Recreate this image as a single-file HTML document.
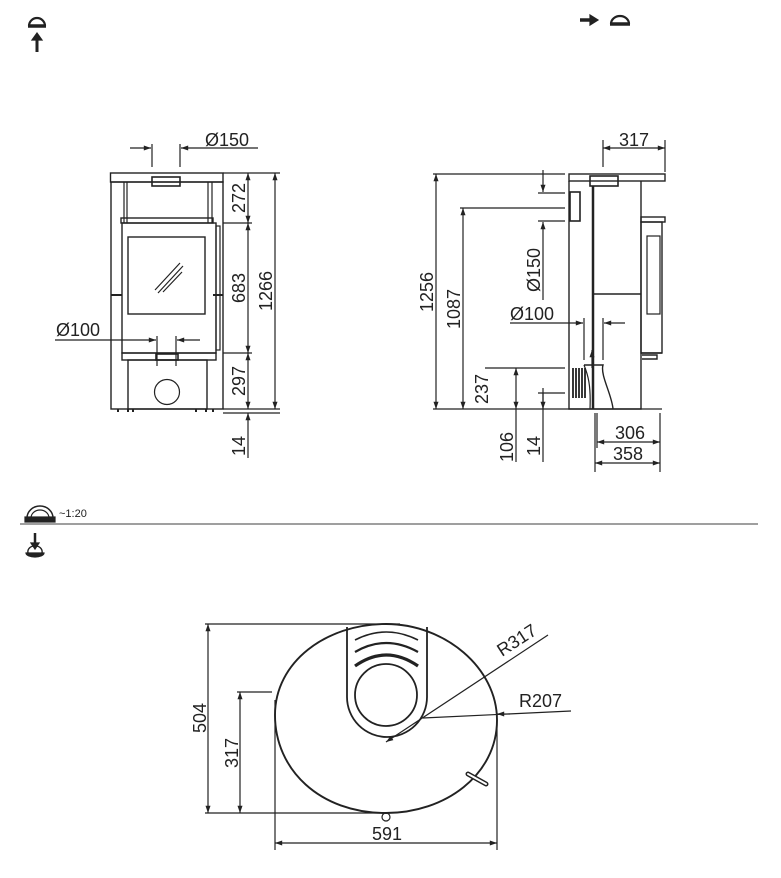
<!DOCTYPE html>
<html><head><meta charset="utf-8"><style>
html,body{margin:0;padding:0;background:#fff;}
svg{display:block;}
text{font-family:"Liberation Sans",Arial,sans-serif;fill:#222;}
</style></head><body>
<svg width="781" height="878" viewBox="0 0 781 878" xmlns="http://www.w3.org/2000/svg">
<defs>
<marker id="a" viewBox="0 0 10 10" refX="10" refY="5" markerWidth="9" markerHeight="6" orient="auto-start-reverse"><path d="M0,1.5 L10,5 L0,8.5 z" fill="#222"/></marker>
</defs>
<g stroke="#222" fill="none" stroke-width="1.2">

<!-- top icons -->
<path d="M29,26 a8,8 0 0 1 16,0" stroke-width="2.2"/>
<path d="M28,26 h18" stroke-width="3.5"/>
<path d="M37,52 V38" stroke-width="3"/>
<path d="M32,40 L37,33 L42,40 z" fill="#222"/>
<path d="M580,20 H592" stroke-width="3.5"/>
<path d="M590,15 L598,20 L590,25 z" fill="#222"/>
<path d="M611,24 a9,8 0 0 1 18,0" stroke-width="2.2"/>
<path d="M610,24 h20" stroke-width="3.5"/>

<!-- FRONT VIEW -->
<rect x="110.5" y="173" width="112.5" height="9" stroke-width="1.4"/>
<rect x="111" y="182" width="112" height="227" stroke-width="1.4"/>
<line x1="124" y1="182" x2="124" y2="223"/><line x1="127" y1="182" x2="127" y2="223"/>
<line x1="208" y1="182" x2="208" y2="223"/><line x1="212" y1="182" x2="212" y2="223"/>
<rect x="121" y="218" width="92" height="5" stroke-width="1.4"/>
<rect x="122" y="223" width="94" height="130" stroke-width="1.4"/>
<rect x="216" y="226" width="4" height="124"/>
<rect x="128" y="237" width="77" height="77" stroke-width="1.4"/>
<path d="M155,290 L180,263 M158,293 L183,266 M163,292 L182,272"/>
<rect x="152" y="177" width="28" height="9" stroke-width="1.6"/>
<line x1="111" y1="295" x2="122" y2="295" stroke-width="2"/>
<line x1="213" y1="295" x2="223" y2="295" stroke-width="2"/>
<rect x="122" y="353" width="94" height="7" stroke-width="1.4"/>
<rect x="128" y="360" width="79" height="49" stroke-width="1.4"/>
<circle cx="167" cy="392" r="12.5"/>
<rect x="156" y="354" width="22" height="6" stroke-width="1.6"/>
<path d="M118,409 v3 M128,409 v3 M133,409 v3 M196,409 v3 M206,409 v3 M213,409 v3" stroke-width="2"/>
<!-- front dims -->
<line x1="130" y1="148" x2="151" y2="148" marker-end="url(#a)"/>
<line x1="181" y1="148" x2="258" y2="148" marker-start="url(#a)"/>
<line x1="152" y1="144" x2="152" y2="167"/><line x1="180" y1="144" x2="180" y2="167"/>
<line x1="223" y1="173" x2="280" y2="173"/>
<line x1="223" y1="223" x2="252" y2="223"/>
<line x1="223" y1="353" x2="252" y2="353"/>
<line x1="223" y1="409" x2="280" y2="409"/>
<line x1="223" y1="413" x2="280" y2="413"/>
<line x1="248" y1="173" x2="248" y2="223" marker-start="url(#a)" marker-end="url(#a)"/>
<line x1="248" y1="223" x2="248" y2="353" marker-start="url(#a)" marker-end="url(#a)"/>
<line x1="248" y1="353" x2="248" y2="409" marker-start="url(#a)" marker-end="url(#a)"/>
<line x1="248" y1="413" x2="248" y2="458" marker-start="url(#a)"/>
<line x1="275" y1="173" x2="275" y2="409" marker-start="url(#a)" marker-end="url(#a)"/>
<line x1="55" y1="340" x2="156" y2="340" marker-end="url(#a)"/>
<line x1="177" y1="340" x2="200" y2="340" marker-start="url(#a)"/>
<line x1="157" y1="336" x2="157" y2="366"/><line x1="176" y1="336" x2="176" y2="366"/>

<!-- SIDE VIEW -->
<rect x="569" y="174" width="96" height="7" stroke-width="1.4"/>
<path d="M569,181 V409 H641 V181" stroke-width="1.4"/>
<line x1="593" y1="186" x2="593" y2="409" stroke-width="2.5"/>
<line x1="593" y1="294" x2="641" y2="294" stroke-width="1.4"/>
<rect x="590" y="176" width="28" height="10" stroke-width="1.6"/>
<rect x="570" y="192" width="10" height="29" stroke-width="1.6"/>
<rect x="641" y="217" width="24" height="5" stroke-width="1.4"/>
<rect x="641" y="222" width="21" height="131" stroke-width="1.4"/>
<rect x="647" y="236" width="13" height="78"/>
<path d="M641,353 H662 M642,355 h15 v4 h-15" stroke-width="1.4"/>
<path d="M573,368 v30 M576,368 v30 M579,368 v30 M582,368 v30 M585,368 v30" stroke-width="1.8"/>
<path d="M584,365 H603 C600,375 612,395 613,409" stroke-width="1.4"/>
<path d="M584,365 C588,375 591,385 590,409"/>
<line x1="592" y1="350" x2="592" y2="368" marker-start="url(#a)"/>
<!-- side dims -->
<line x1="433" y1="409" x2="662" y2="409"/>
<line x1="433" y1="174" x2="565" y2="174"/>
<line x1="460" y1="208" x2="565" y2="208"/>
<line x1="436" y1="174" x2="436" y2="409" marker-start="url(#a)" marker-end="url(#a)"/>
<line x1="463" y1="208" x2="463" y2="409" marker-start="url(#a)" marker-end="url(#a)"/>
<line x1="538" y1="193" x2="565" y2="193"/>
<line x1="538" y1="221" x2="565" y2="221"/>
<line x1="543" y1="170" x2="543" y2="192" marker-end="url(#a)"/>
<line x1="543" y1="222" x2="543" y2="300" marker-start="url(#a)"/>
<line x1="510" y1="323" x2="583" y2="323" marker-end="url(#a)"/>
<line x1="604" y1="323" x2="625" y2="323" marker-start="url(#a)"/>
<line x1="584" y1="318" x2="584" y2="360"/><line x1="603" y1="318" x2="603" y2="360"/>
<line x1="485" y1="368" x2="565" y2="368"/>
<line x1="538" y1="393" x2="565" y2="393"/>
<line x1="516" y1="368" x2="516" y2="409" marker-start="url(#a)" marker-end="url(#a)"/>
<line x1="516" y1="409" x2="516" y2="462"/>
<line x1="543" y1="388" x2="543" y2="409" marker-end="url(#a)"/>
<line x1="543" y1="393" x2="543" y2="462"/>
<line x1="603" y1="140" x2="603" y2="167"/>
<line x1="665" y1="140" x2="665" y2="172"/>
<line x1="603" y1="148" x2="665" y2="148" marker-start="url(#a)" marker-end="url(#a)"/>
<line x1="595" y1="413" x2="595" y2="472"/>
<line x1="597" y1="413" x2="597" y2="448"/>
<line x1="660" y1="413" x2="660" y2="472"/>
<line x1="597" y1="442" x2="660" y2="442" marker-start="url(#a)" marker-end="url(#a)"/>
<line x1="595" y1="463" x2="660" y2="463" marker-start="url(#a)" marker-end="url(#a)"/>

<!-- separator + scale icon -->
<line x1="20" y1="524" x2="758" y2="524" stroke="#666" stroke-width="1.3"/>
<path d="M27,518 a13,12 0 0 1 26,0" stroke-width="1.5"/>
<path d="M31,518 a9,8 0 0 1 18,0" stroke-width="1.2"/>
<rect x="25" y="517" width="30" height="5" fill="#222"/>
<path d="M35,533 V545" stroke-width="2.5"/>
<path d="M31,543 L35,549 L39,543 z" fill="#222"/>
<path d="M28,553 a7,6 0 0 1 5,-7 M42,553 a7,6 0 0 0 -5,-7" stroke-width="1.4"/>
<path d="M26,553 h18 a9,4 0 0 1 -18,0 z" fill="#222"/>

<!-- PLAN VIEW -->
<path d="M386,624 C445,624 497,668 497,720 C497,775 445,813 386,813 C320,813 275,770 275,715 C275,662 326,624 386,624 z" stroke-width="1.9"/>
<path d="M347,627 V697 A40,40 0 0 0 427,697 V627" stroke-width="1.8"/>
<circle cx="386" cy="695" r="31" stroke-width="1.8"/>
<path d="M355,640 Q386,624 418,640" stroke-width="1.6"/>
<path d="M355,652 Q386,634 418,652" stroke-width="2.2"/>
<path d="M355,666 Q386,644 418,666" stroke-width="3.2"/>
<line x1="386" y1="742" x2="548" y2="635" marker-start="url(#a)"/>
<line x1="423" y1="718" x2="571" y2="711"/>
<line x1="510" y1="714" x2="497" y2="714" marker-end="url(#a)"/>
<path d="M468,774 L486,784" stroke-width="5" stroke-linecap="round"/>
<path d="M468,774 L486,784" stroke="#fff" stroke-width="2" stroke-linecap="round"/>
<circle cx="386" cy="817" r="4"/>
<line x1="205" y1="624" x2="400" y2="624"/>
<line x1="205" y1="813" x2="390" y2="813"/>
<line x1="208" y1="624" x2="208" y2="813" marker-start="url(#a)" marker-end="url(#a)"/>
<line x1="237" y1="692" x2="272" y2="692"/>
<line x1="240" y1="692" x2="240" y2="813" marker-start="url(#a)" marker-end="url(#a)"/>
<line x1="275" y1="700" x2="275" y2="850"/>
<line x1="497" y1="720" x2="497" y2="850"/>
<line x1="275" y1="843" x2="497" y2="843" marker-start="url(#a)" marker-end="url(#a)"/>
</g>

<g font-size="18">
<text x="205" y="146">Ø150</text>
<text x="56" y="336">Ø100</text>
<text transform="translate(245,198) rotate(-90)" text-anchor="middle">272</text>
<text transform="translate(245,288) rotate(-90)" text-anchor="middle">683</text>
<text transform="translate(245,381) rotate(-90)" text-anchor="middle">297</text>
<text transform="translate(245,446) rotate(-90)" text-anchor="middle">14</text>
<text transform="translate(272,291) rotate(-90)" text-anchor="middle">1266</text>
<text transform="translate(433,292) rotate(-90)" text-anchor="middle">1256</text>
<text transform="translate(460,309) rotate(-90)" text-anchor="middle">1087</text>
<text transform="translate(540,270) rotate(-90)" text-anchor="middle">Ø150</text>
<text x="510" y="320">Ø100</text>
<text transform="translate(488,389) rotate(-90)" text-anchor="middle">237</text>
<text transform="translate(513,447) rotate(-90)" text-anchor="middle">106</text>
<text transform="translate(540,446) rotate(-90)" text-anchor="middle">14</text>
<text x="634" y="146" text-anchor="middle">317</text>
<text x="630" y="439" text-anchor="middle">306</text>
<text x="628" y="460" text-anchor="middle">358</text>
<text transform="translate(502,657) rotate(-33)">R317</text>
<text x="519" y="707">R207</text>
<text transform="translate(206,718) rotate(-90)" text-anchor="middle">504</text>
<text transform="translate(238,753) rotate(-90)" text-anchor="middle">317</text>
<text x="387" y="840" text-anchor="middle">591</text>
</g>
<text x="59" y="517" font-size="11">~1:20</text>
</svg>
</body></html>
